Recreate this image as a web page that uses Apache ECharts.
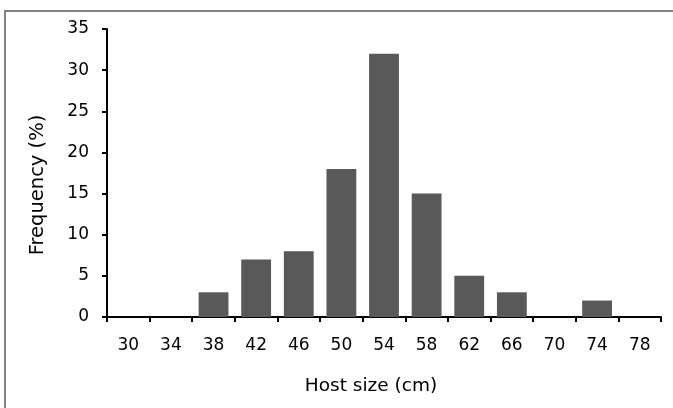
<!DOCTYPE html>
<html><head><meta charset="utf-8">
<script src="https://cdn.jsdelivr.net/npm/echarts@6/dist/echarts.min.js"></script>
<style>html,body{margin:0;padding:0;background:#fff}#c{width:673px;height:408px}</style>
</head><body><div id="c"></div>
<script>
const categories = ['30','34','38','42','46','50','54','58','62','66','70','74','78'];
const frequency = [0,0,3,7,8,18,32,15,5,3,0,2,0];
const yTicks = {min:0, max:35, interval:5};
const FONT = 'DejaVu Sans';
const chart = echarts.init(document.getElementById('c'), null, {renderer:'canvas'});
chart.setOption({
  animation:false,
  backgroundColor:'#fff',
  graphic:[{type:'rect', shape:{x:5,y:11,width:720,height:450}, style:{fill:'none', stroke:'#808080', lineWidth:2}, z:-1}],
  grid:{left:107,right:12,top:29,bottom:91},
  xAxis:{type:'category',data:categories,
    name:'Host size (cm)',nameLocation:'middle',nameGap:60,
    nameTextStyle:{fontFamily:FONT,fontSize:18.5,color:'#000',padding:[0,26,0,0]},
    axisLine:{lineStyle:{color:'#000',width:2}},
    axisTick:{show:true,alignWithLabel:false,length:5,lineStyle:{color:'#000',width:2}},
    axisLabel:{fontFamily:FONT,fontSize:17,color:'#000',margin:20}},
  yAxis:{type:'value',min:yTicks.min,max:yTicks.max,interval:yTicks.interval,
    name:'Frequency (%)',nameLocation:'middle',nameGap:59,nameRotate:90,
    nameTextStyle:{fontFamily:FONT,fontSize:19.5,color:'#000',padding:[0,24,0,0]},
    splitLine:{show:false},
    axisLine:{show:true,lineStyle:{color:'#000',width:2}},
    axisTick:{show:true,length:5,lineStyle:{color:'#000',width:2}},
    axisLabel:{fontFamily:FONT,fontSize:17,color:'#000',margin:18}},
  series:[{type:'bar',data:frequency,barCategoryGap:'30%',
    itemStyle:{color:'#595959'}}]
});
</script></body></html>
